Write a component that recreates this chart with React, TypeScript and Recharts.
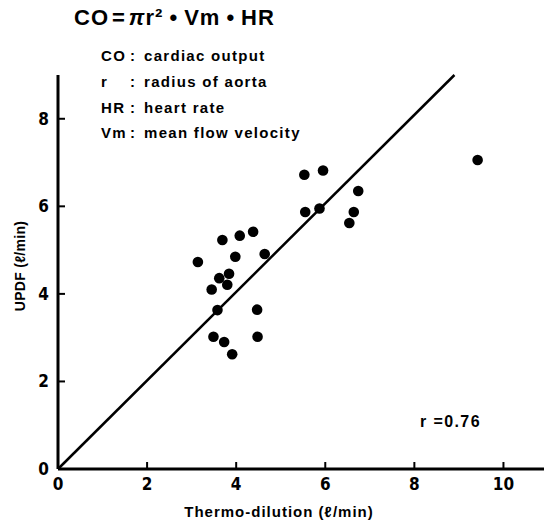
import { ScatterChart, Scatter, XAxis, YAxis, ReferenceLine } from 'recharts';

// Thermo-dilution (x) vs UPDF (y), l/min
const thermoDilution = [5.53, 5.95, 6.74, 5.55, 5.87, 6.64, 6.54, 3.69, 4.08, 4.38, 3.14, 3.98, 4.64, 3.84, 3.62, 3.8, 3.45, 3.58, 4.47, 3.49, 3.73, 4.48, 3.91, 9.42];
const updf = [6.72, 6.82, 6.35, 5.87, 5.95, 5.87, 5.62, 5.23, 5.33, 5.42, 4.73, 4.85, 4.91, 4.46, 4.36, 4.21, 4.1, 3.63, 3.64, 3.02, 2.9, 3.02, 2.62, 7.06];
const xTicks = [0, 2, 4, 6, 8, 10];
const yTicks = [0, 2, 4, 6, 8];
const identityLine = [{ x: 0, y: 0 }, { x: 8.9, y: 9 }];
const legendRows = [
  ['CO', 'cardiac output'],
  ['r', 'radius of aorta'],
  ['HR', 'heart rate'],
  ['Vm', 'mean flow velocity'],
];

const points = thermoDilution.map((x, i) => ({ x, y: updf[i] }));

const tickFont = "'Liberation Sans Narrow', 'DejaVu Sans Condensed', sans-serif";
const labelFont = "'Liberation Sans', Arial, sans-serif";

function XTick({ x, y, payload }: any) {
  return (
    <g>
      {payload.value !== 0 && <line x1={x} x2={x} y1={y} y2={y - 7} stroke="#000" strokeWidth={2} />}
      <text x={x} y={y + 21} textAnchor="middle" fontFamily={tickFont} fontWeight="bold" fontSize={17} fill="#000">
        {payload.value}
      </text>
    </g>
  );
}

function YTick({ x, y, payload }: any) {
  return (
    <g>
      {payload.value !== 0 && <line x1={x} x2={x + 7} y1={y} y2={y} stroke="#000" strokeWidth={2} />}
      <text x={x - 9} y={y + 6} textAnchor="end" fontFamily={tickFont} fontWeight="bold" fontSize={17} fill="#000">
        {payload.value}
      </text>
    </g>
  );
}

export default function App() {
  return (
    <div style={{ position: 'absolute', left: 0, top: 0, width: 544, height: 523, overflow: 'hidden', background: '#fff', color: '#000' }}>
      <ScatterChart width={548} height={523} margin={{ top: 75, right: 0, bottom: 0, left: 0 }}>
        <XAxis
          type="number"
          dataKey="x"
          domain={[0, 11]}
          ticks={xTicks}
          height={54}
          tickSize={0}
          tickMargin={0}
          tickLine={false}
          axisLine={{ stroke: '#000', strokeWidth: 3 }}
          tick={<XTick />}
          allowDataOverflow
        />
        <YAxis
          type="number"
          dataKey="y"
          domain={[0, 9]}
          ticks={yTicks}
          width={58}
          tickSize={0}
          tickMargin={0}
          tickLine={false}
          axisLine={{ stroke: '#000', strokeWidth: 3 }}
          tick={<YTick />}
          allowDataOverflow
        />
        <ReferenceLine segment={identityLine} stroke="#000" strokeWidth={2.5} ifOverflow="visible" />
        <Scatter
          data={points}
          isAnimationActive={false}
          shape={(p: any) => <circle cx={p.cx} cy={p.cy} r={5.3} fill="#000" />}
        />
      </ScatterChart>

      <div style={{ position: 'absolute', left: 74, top: 5, fontFamily: labelFont, fontWeight: 'bold', fontSize: 22, whiteSpace: 'nowrap', letterSpacing: 1 }}>
        CO<span style={{ margin: '0 3px' }}>=</span><i>π</i>r²<span style={{ margin: '0 6px' }}>•</span>Vm<span style={{ margin: '0 6px' }}>•</span>HR
      </div>

      {legendRows.map(([term, desc], i) => (
        <div key={term} style={{ position: 'absolute', top: 47 + i * 25.8, left: 101, height: 18, fontFamily: labelFont, fontWeight: 'bold', fontSize: 15, whiteSpace: 'nowrap', letterSpacing: 1.3 }}>
          <span style={{ position: 'absolute', left: 0 }}>{term}</span>
          <span style={{ position: 'absolute', left: 29 }}>:</span>
          <span style={{ position: 'absolute', left: 43 }}>{desc}</span>
        </div>
      ))}

      <div style={{ position: 'absolute', left: 420, top: 413, fontFamily: labelFont, fontWeight: 'bold', fontSize: 16, whiteSpace: 'nowrap', letterSpacing: 1.4 }}>
        r =0.76
      </div>

      <div style={{ position: 'absolute', left: 279, top: 511, transform: 'translate(-50%, -50%)', fontFamily: labelFont, fontWeight: 'bold', fontSize: 15, whiteSpace: 'nowrap', letterSpacing: 1 }}>
        Thermo-dilution (ℓ/min)
      </div>

      <div style={{ position: 'absolute', left: 20, top: 266, transform: 'translate(-50%, -50%) rotate(-90deg)', fontFamily: labelFont, fontWeight: 'bold', fontSize: 14, whiteSpace: 'nowrap', letterSpacing: 0.3 }}>
        UPDF (ℓ/min)
      </div>
    </div>
  );
}
